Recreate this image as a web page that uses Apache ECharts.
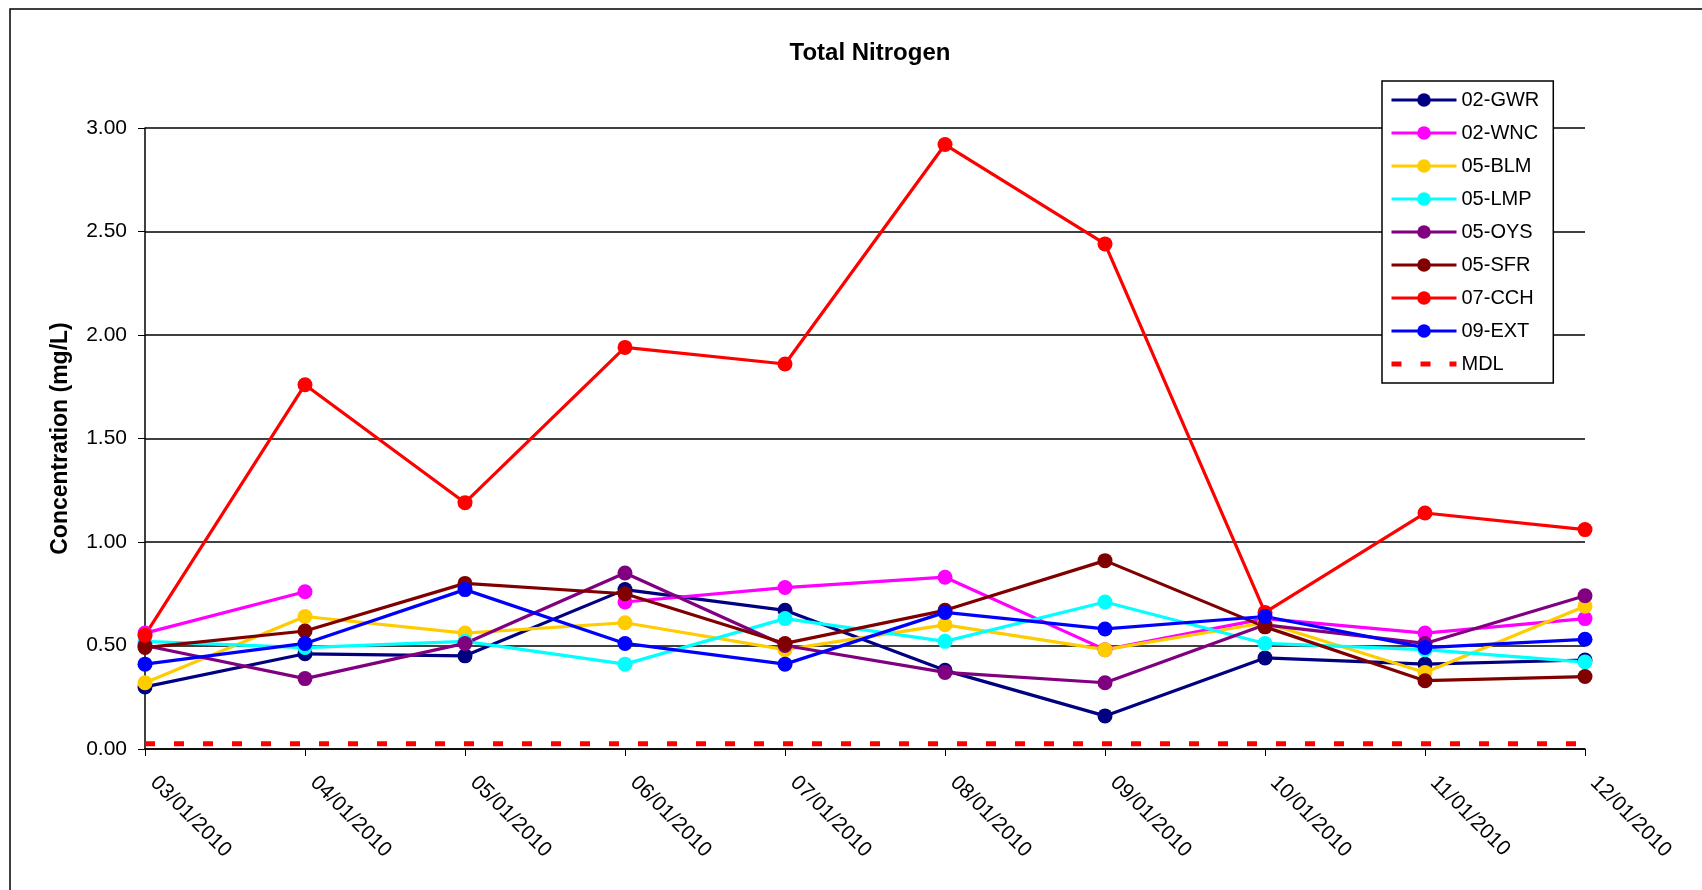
<!DOCTYPE html>
<html>
<head>
<meta charset="utf-8">
<title>Total Nitrogen</title>
<script src="https://cdn.jsdelivr.net/npm/echarts@6/dist/echarts.min.js"></script>
<style>
html, body { margin: 0; padding: 0; background: #fff; }
#chartLine { width: 1702px; height: 890px; }
</style>
</head>
<body>
<div id="chartLine"></div>
<script>
// sample dates (x axis)
var dates = ['03/01/2010', '04/01/2010', '05/01/2010', '06/01/2010', '07/01/2010',
             '08/01/2010', '09/01/2010', '10/01/2010', '11/01/2010', '12/01/2010'];

// station values, mg/L
var gwr = [0.30, 0.46, 0.45, 0.77, 0.67, 0.38, 0.16, 0.44, 0.41, 0.43];
var wnc = [0.56, 0.76, null, 0.71, 0.78, 0.83, 0.48, 0.63, 0.56, 0.63];
var blm = [0.32, 0.64, 0.56, 0.61, 0.48, 0.60, 0.48, 0.61, 0.37, 0.69];
var lmp = [0.52, 0.49, 0.52, 0.41, 0.63, 0.52, 0.71, 0.51, 0.48, 0.42];
var oys = [0.50, 0.34, 0.51, 0.85, 0.50, 0.37, 0.32, 0.60, 0.51, 0.74];
var sfr = [0.49, 0.57, 0.80, 0.75, 0.51, 0.67, 0.91, 0.59, 0.33, 0.35];
var cch = [0.55, 1.76, 1.19, 1.94, 1.86, 2.92, 2.44, 0.66, 1.14, 1.06];
var ext = [0.41, 0.51, 0.77, 0.51, 0.41, 0.66, 0.58, 0.64, 0.49, 0.53];
// method detection limit
var mdl = [0.025, 0.025, 0.025, 0.025, 0.025, 0.025, 0.025, 0.025, 0.025, 0.025];

var yTicks = [0, 0.5, 1.0, 1.5, 2.0, 2.5, 3.0];

var FONT = '"Liberation Sans", Arial, sans-serif';

function station(name, color, data) {
    return {
        name: name,
        type: 'line',
        symbol: 'circle',
        symbolSize: 15,
        showAllSymbol: true,
        connectNulls: false,
        lineStyle: { color: color, width: 3.2 },
        itemStyle: { color: color },
        emphasis: { disabled: true },
        data: data
    };
}

var myChart = echarts.init(document.getElementById('chartLine'));
var option = {
    animation: false,
    backgroundColor: '#fff',
    textStyle: { fontFamily: FONT, color: '#000' },
    title: {
        text: 'Total Nitrogen',
        left: 865,
        textAlign: 'center',
        top: 36,
        textStyle: { fontFamily: FONT, fontSize: 24, fontWeight: 'bold', color: '#000' }
    },
    graphic: [{
        // outer chart border, cut off on the right and bottom like the source
        type: 'rect',
        shape: { x: 10, y: 9, width: 1800, height: 1000 },
        style: { fill: null, stroke: '#000', lineWidth: 1.5 },
        silent: true
    }],
    legend: {
        orient: 'vertical',
        left: 1382,
        top: 81,
        padding: [9, 14, 9, 7],
        backgroundColor: '#fff',
        borderColor: '#000',
        borderWidth: 1.5,
        itemWidth: 65,
        itemHeight: 17,
        itemGap: 13,
        lineStyle: { width: 'inherit' },
        textStyle: { fontFamily: FONT, fontSize: 20, color: '#000', lineHeight: 20 },
        data: ['02-GWR', '02-WNC', '05-BLM', '05-LMP', '05-OYS', '05-SFR', '07-CCH', '09-EXT', 'MDL']
    },
    grid: {
        left: 145,
        right: 117,
        top: 128,
        bottom: 141
    },
    xAxis: {
        type: 'category',
        boundaryGap: false,
        data: dates,
        axisLine: { show: true, lineStyle: { color: '#000', width: 1.5 } },
        axisTick: { show: true, length: 7, lineStyle: { color: '#000' } },
        axisLabel: {
            rotate: -45,
            margin: 22,
            padding: [0, 0, 0, 12],
            interval: 0,
            fontFamily: FONT,
            fontSize: 21,
            color: '#000'
        },
        splitLine: { show: false }
    },
    yAxis: {
        type: 'value',
        min: yTicks[0],
        max: yTicks[yTicks.length - 1],
        interval: 0.5,
        name: 'Concentration (mg/L)',
        nameLocation: 'middle',
        nameGap: 73,
        nameTextStyle: { fontFamily: FONT, fontSize: 23, fontWeight: 'bold', color: '#000' },
        axisLine: { show: true, lineStyle: { color: '#000', width: 1.5 } },
        axisTick: { show: true, length: 7, lineStyle: { color: '#000' } },
        axisLabel: {
            margin: 18,
            fontFamily: FONT,
            fontSize: 21,
            color: '#000',
            formatter: function (v) { return v.toFixed(2); }
        },
        splitLine: { show: true, lineStyle: { color: '#000', width: 1.5 } }
    },
    series: [
        station('02-GWR', '#000080', gwr),
        station('02-WNC', '#FF00FF', wnc),
        station('05-BLM', '#FFCC00', blm),
        station('05-LMP', '#00FFFF', lmp),
        station('05-OYS', '#800080', oys),
        station('05-SFR', '#800000', sfr),
        station('07-CCH', '#FF0000', cch),
        station('09-EXT', '#0000FF', ext),
        {
            name: 'MDL',
            type: 'line',
            symbol: 'none',
            lineStyle: { color: '#FF0000', width: 5, type: [10, 19] },
            // hide the dot the legend would draw for this series
            itemStyle: { color: '#FF0000', opacity: 0 },
            emphasis: { disabled: true },
            data: mdl
        }
    ]
};
myChart.setOption(option);
window.onresize = function () {
    myChart.resize();
};
</script>
</body>
</html>
